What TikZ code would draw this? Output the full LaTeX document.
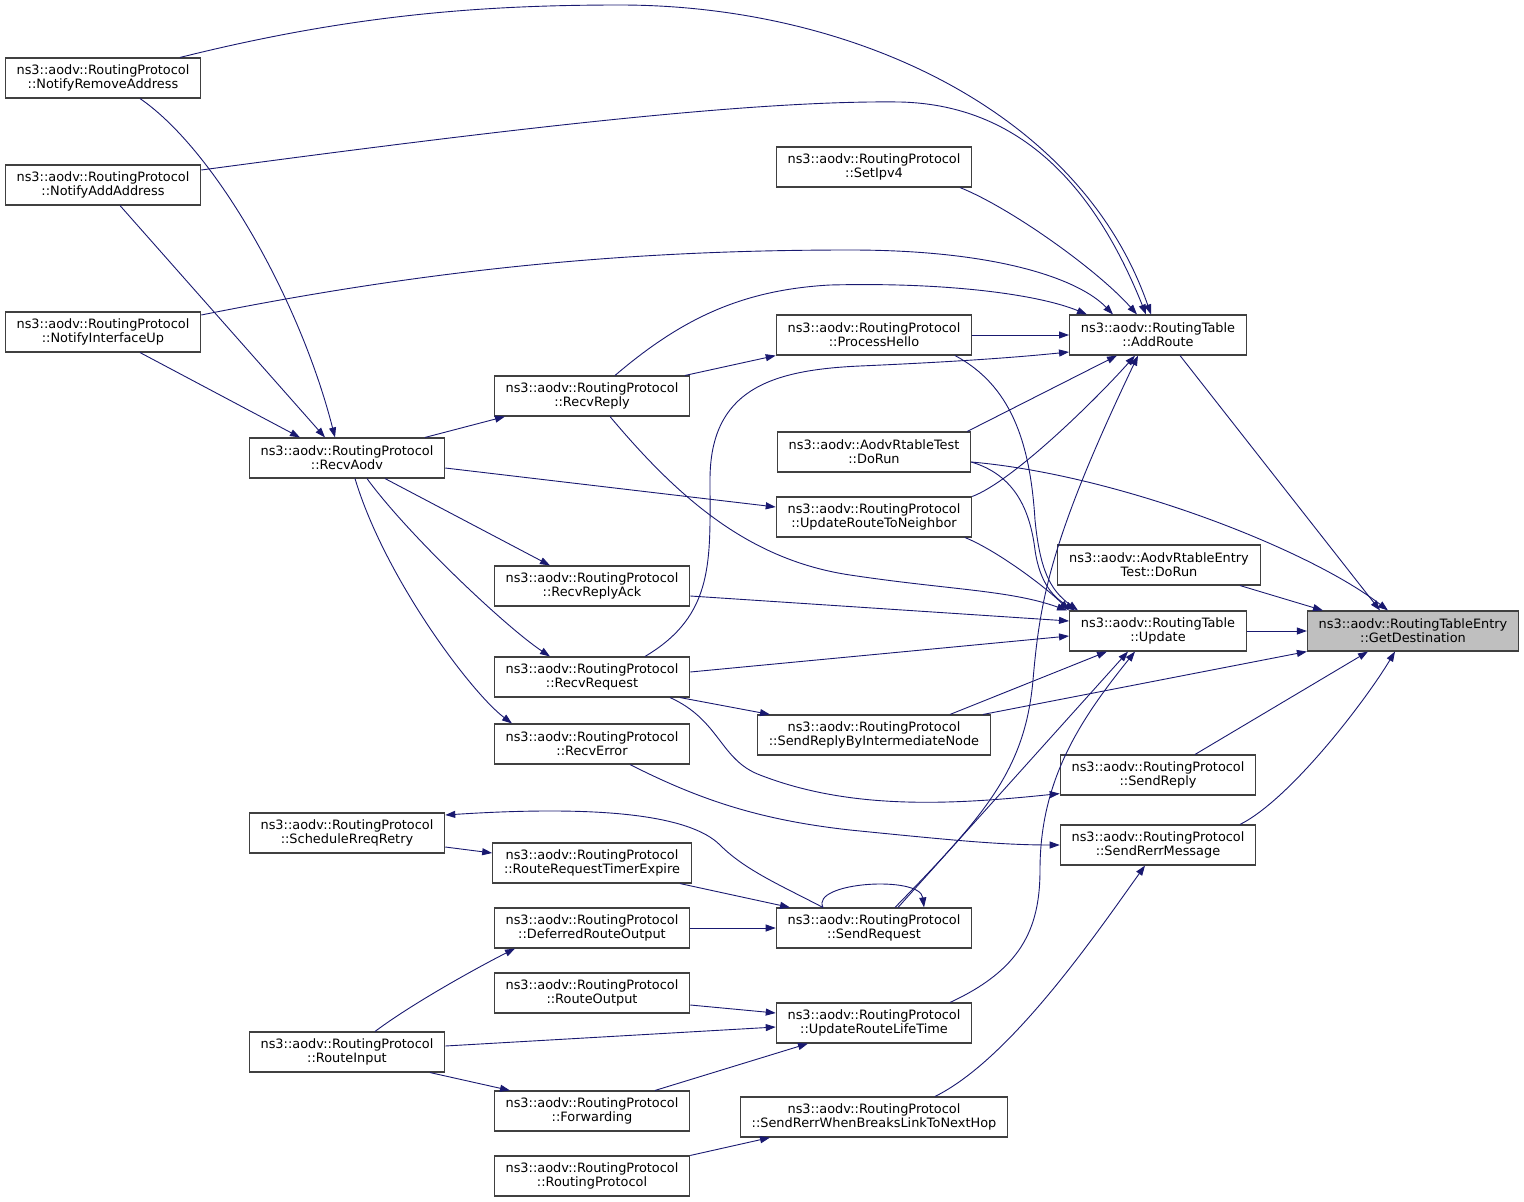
\documentclass[tikz,border=0pt]{standalone}
\usepackage{fontspec}
\setmainfont{DejaVu Sans}
\usetikzlibrary{arrows.meta}
\definecolor{edgeblue}{HTML}{191970}
\definecolor{boxgray}{HTML}{404040}
\definecolor{focusgray}{HTML}{BFBFBF}

\begin{document}
\begin{tikzpicture}[x=1pt, y=-1pt,
  func/.style={draw=boxgray, line width=1.1pt, fill=white, align=center,
    font=\fontsize{12.9}{14}\selectfont, inner xsep=11.3pt, inner ysep=0pt, minimum height=40pt},
  calls/.style={draw=edgeblue, line width=0.9pt, -{Triangle[length=10pt,width=7pt]}}]
\useasboundingbox (0,0) rectangle (1524,1202);

% Callers, left column
\node[func] (nra) at (103,78) {ns3::aodv::RoutingProtocol\\::NotifyRemoveAddress};
\node[func] (naa) at (103,185) {ns3::aodv::RoutingProtocol\\::NotifyAddAddress};
\node[func] (niu) at (103,332) {ns3::aodv::RoutingProtocol\\::NotifyInterfaceUp};
\node[func] (recvaodv) at (347,458) {ns3::aodv::RoutingProtocol\\::RecvAodv};
\node[func] (sched) at (347,833) {ns3::aodv::RoutingProtocol\\::ScheduleRreqRetry};
\node[func] (routeinput) at (347,1052) {ns3::aodv::RoutingProtocol\\::RouteInput};

% Second column
\node[func] (recvreply) at (592,396) {ns3::aodv::RoutingProtocol\\::RecvReply};
\node[func] (replyack) at (592,586) {ns3::aodv::RoutingProtocol\\::RecvReplyAck};
\node[func] (recvreq) at (592,677) {ns3::aodv::RoutingProtocol\\::RecvRequest};
\node[func] (recverr) at (592,744) {ns3::aodv::RoutingProtocol\\::RecvError};
\node[func] (timerexp) at (592,863) {ns3::aodv::RoutingProtocol\\::RouteRequestTimerExpire};
\node[func] (deferred) at (592,928) {ns3::aodv::RoutingProtocol\\::DeferredRouteOutput};
\node[func] (routeout) at (592,993) {ns3::aodv::RoutingProtocol\\::RouteOutput};
\node[func] (forwarding) at (592,1111) {ns3::aodv::RoutingProtocol\\::Forwarding};
\node[func] (rprotocol) at (592,1176) {ns3::aodv::RoutingProtocol\\::RoutingProtocol};

% Third column
\node[func] (setipv4) at (874,167) {ns3::aodv::RoutingProtocol\\::SetIpv4};
\node[func] (hello) at (874,335) {ns3::aodv::RoutingProtocol\\::ProcessHello};
\node[func] (rtabletest) at (874,452) {ns3::aodv::AodvRtableTest\\::DoRun};
\node[func] (toneighbor) at (874,517) {ns3::aodv::RoutingProtocol\\::UpdateRouteToNeighbor};
\node[func] (intermediate) at (874,735) {ns3::aodv::RoutingProtocol\\::SendReplyByIntermediateNode};
\node[func] (sendreq) at (874,928) {ns3::aodv::RoutingProtocol\\::SendRequest};
\node[func] (lifetime) at (874,1023) {ns3::aodv::RoutingProtocol\\::UpdateRouteLifeTime};
\node[func] (breakslink) at (874,1117) {ns3::aodv::RoutingProtocol\\::SendRerrWhenBreaksLinkToNextHop};

% Fourth column
\node[func] (addroute) at (1158,335) {ns3::aodv::RoutingTable\\::AddRoute};
\node[func] (entrytest) at (1159,565) {ns3::aodv::AodvRtableEntry\\Test::DoRun};
\node[func] (update) at (1158,631) {ns3::aodv::RoutingTable\\::Update};
\node[func] (sendreply) at (1158,775) {ns3::aodv::RoutingProtocol\\::SendReply};
\node[func] (senderr) at (1158,845) {ns3::aodv::RoutingProtocol\\::SendRerrMessage};

% Function in focus
\node[func, fill=focusgray] (getdest) at (1413,631) {ns3::aodv::RoutingTableEntry\\::GetDestination};

% Into GetDestination
\draw[calls] ([xshift=22pt]addroute.south) -- ([xshift=-33pt]getdest.north);
\draw[calls] ([yshift=-10pt]rtabletest.east) .. controls (1120,475) and (1310,550) .. ([xshift=-25pt]getdest.north);
\draw[calls] ([xshift=81pt]entrytest.south) -- ([xshift=-90pt]getdest.north);
\draw[calls] (update.east) -- (getdest.west);
\draw[calls] ([xshift=109pt]intermediate.north) -- (getdest.south west);
\draw[calls] ([xshift=37pt]sendreply.north) -- ([xshift=-45pt]getdest.south);
\draw[calls] ([xshift=82pt]senderr.north) .. controls +(50,-25) and +(-30,50) .. ([xshift=-18pt]getdest.south);

% Into AddRoute
\draw[calls] ([xshift=77pt]nra.north) .. controls (350,15) and (480,5) .. (620,5) .. controls (850,5) and (1080,110) .. ([xshift=-7pt]addroute.north);
\draw[calls] ([yshift=15pt]naa.east) .. controls (500,130) and (750,100) .. (900,102) .. controls (1030,105) and (1100,200) .. ([xshift=-12pt]addroute.north);
\draw[calls] ([yshift=17pt]niu.east) .. controls (450,265) and (650,250) .. (850,250) .. controls (1000,250) and (1080,280) .. ([xshift=-45pt]addroute.north);
\draw[calls] ([xshift=86pt]setipv4.south) .. controls +(50,20) and +(-40,-45) .. ([xshift=-21pt]addroute.north);
\draw[calls] (hello.east) -- (addroute.west);
\draw[calls] ([xshift=23pt]recvreply.north) .. controls (680,320) and (740,290) .. (830,285) .. controls (950,282) and (1040,295) .. ([xshift=-71pt]addroute.north);
\draw[calls] ([xshift=53pt]recvreq.north) .. controls (715,615) and (710,560) .. (710,480) .. controls (710,390) and (770,370) .. (860,366) .. controls (950,362) and (1010,358) .. ([yshift=-17pt]addroute.west);
\draw[calls] ([xshift=-4pt]rtabletest.north east) -- ([xshift=-41pt]addroute.south);
\draw[calls] (toneighbor.north east) .. controls +(40,-15) and +(-40,45) .. ([xshift=-23pt]addroute.south);
\draw[calls] ([xshift=21pt]sendreq.north) .. controls (985,815) and (1025,770) .. (1033,680) .. controls (1040,600) and (1050,540) .. ([xshift=-20pt]addroute.south);

% Into Update
\draw[calls] ([xshift=81pt]hello.south) .. controls (1010,385) and (1030,440) .. (1035,520) .. controls (1040,570) and (1050,590) .. ([xshift=-80pt]update.north);
\draw[calls] ([yshift=-10pt]rtabletest.east) .. controls (1015,475) and (1030,510) .. (1035,550) .. controls (1040,585) and (1055,598) .. ([xshift=-83pt]update.north);
\draw[calls] ([xshift=91pt]toneighbor.south) .. controls +(30,12) and +(-25,-25) .. ([xshift=-89pt]update.north);
\draw[calls] ([xshift=18pt]recvreply.south) .. controls (680,500) and (750,560) .. (850,575) .. controls (950,590) and (1010,590) .. ([xshift=-2pt]update.north west);
\draw[calls] ([yshift=-10pt]replyack.east) -- ([yshift=10pt]update.west);
\draw[calls] ([yshift=5pt]recvreq.east) -- ([yshift=-5pt]update.west);
\draw[calls] ([xshift=76pt]intermediate.north) -- ([xshift=-51pt]update.south);
\draw[calls] ([xshift=24pt]sendreq.north) -- ([xshift=-30pt]update.south);
\draw[calls] ([xshift=76pt]lifetime.north) .. controls (1020,970) and (1040,930) .. (1040,870) .. controls (1040,780) and (1080,720) .. ([xshift=-23pt]update.south);

% Into RecvAodv
\draw[calls] ([xshift=37pt]nra.south) .. controls (215,150) and (300,300) .. ([xshift=-12pt]recvaodv.north);
\draw[calls] ([xshift=17pt]naa.south) -- ([xshift=-22pt]recvaodv.north);
\draw[calls] ([xshift=37pt]niu.south) -- ([xshift=-47pt]recvaodv.north);

% Out of RecvAodv
\draw[calls] ([xshift=78pt]recvaodv.north) -- ([xshift=-87pt]recvreply.south);
\draw[calls] ([yshift=-10pt]recvaodv.east) -- ([yshift=10pt]toneighbor.west);
\draw[calls] ([xshift=38pt]recvaodv.south) -- ([xshift=-42pt]replyack.north);
\draw[calls] ([xshift=20pt]recvaodv.south) .. controls +(40,55) and +(-45,-30) .. ([xshift=-42pt]recvreq.north);
\draw[calls] ([xshift=8pt]recvaodv.south) .. controls +(30,100) and +(-40,-30) .. ([xshift=-80pt]recverr.north);

% Receive handlers
\draw[calls] ([xshift=93pt]recvreply.north) -- (hello.south west);
\draw[calls] ([xshift=88pt]recvreq.south) -- ([xshift=-104pt]intermediate.north);
\draw[calls] ([xshift=78pt]recvreq.south) .. controls (720,720) and (720,760) .. (760,775) .. controls (850,810) and (950,805) .. ([yshift=2pt]sendreply.south west);
\draw[calls] ([xshift=38pt]recverr.south) .. controls (700,800) and (760,820) .. (850,830) .. controls (950,840) and (1000,845) .. (senderr.west);

% Request retry loop
\draw[calls] ([yshift=-14pt]sched.east) -- ([yshift=10pt]timerexp.west);
\draw[calls] ([xshift=-51pt]sendreq.north) .. controls (780,885) and (745,870) .. (720,845) .. controls (690,815) and (600,805) .. ([yshift=18pt]sched.east);
\draw[calls] ([xshift=88pt]timerexp.south) -- ([xshift=-84pt]sendreq.north);
\draw[calls] (deferred.east) -- (sendreq.west);
\draw[calls] ([xshift=-51pt]sendreq.north) .. controls (810,882) and (920,875) .. ([xshift=50pt]sendreq.north);

% Route input and lifetime
\draw[calls] ([xshift=28pt]routeinput.north) .. controls +(40,-30) and +(-30,15) .. ([xshift=-77pt]deferred.south);
\draw[calls] ([yshift=6pt]routeinput.east) -- ([yshift=-4pt]lifetime.west);
\draw[calls] ([xshift=83pt]routeinput.south) -- ([xshift=-82pt]forwarding.north);
\draw[calls] ([yshift=-12pt]routeout.east) -- ([yshift=10pt]lifetime.west);
\draw[calls] ([xshift=63pt]forwarding.north) -- ([xshift=-66pt]lifetime.south);
\draw[calls] (rprotocol.north east) -- ([xshift=-104pt]breakslink.south);
\draw[calls] ([xshift=61pt]breakslink.north) .. controls +(75,-37) and +(-50,70) .. ([xshift=-13pt]senderr.south);
\end{tikzpicture}
\end{document}
